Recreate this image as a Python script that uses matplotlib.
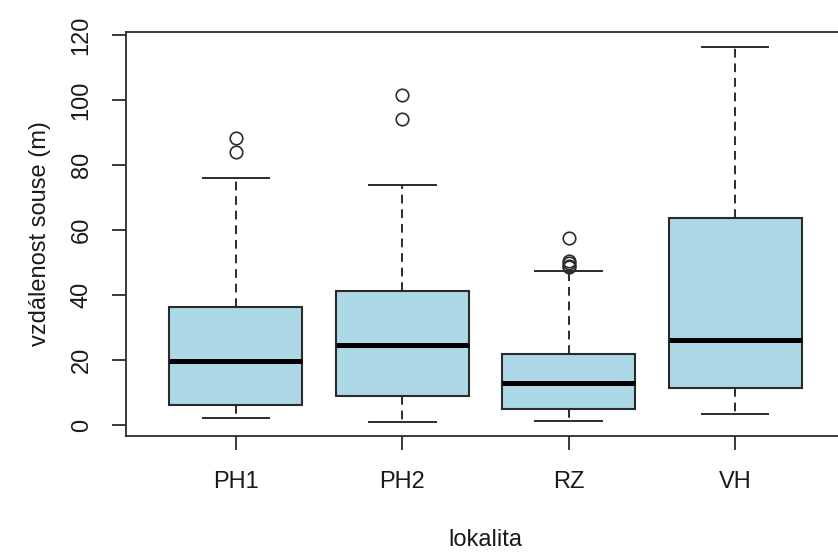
import matplotlib
matplotlib.use("Agg")
import matplotlib.pyplot as plt

# box statistics (m)
lokality = ["PH1", "PH2", "RZ", "VH"]
q1 = [6.2, 9.0, 4.9, 11.3]
median = [19.7, 24.7, 12.9, 26.2]
q3 = [36.2, 41.3, 21.8, 63.8]
whisker_lo = [2.1, 1.0, 1.2, 3.5]
whisker_hi = [75.9, 73.7, 47.4, 116.2]
outliers = [
    [84.1, 88.4],
    [94.1, 101.5],
    [48.5, 49.0, 49.7, 50.5, 57.5],
    [],
]

plt.rcParams["font.family"] = ["Liberation Sans", "DejaVu Sans"]

fig = plt.figure(figsize=(8.38, 5.53), dpi=100)
ax = fig.add_axes([126 / 838, 117 / 553, 719 / 838, 404 / 553])

stats = []
for i, name in enumerate(lokality):
    stats.append({
        "label": name,
        "q1": q1[i], "med": median[i], "q3": q3[i],
        "whislo": whisker_lo[i], "whishi": whisker_hi[i],
        "fliers": outliers[i],
    })

edge = "#2b2b2b"
ax.bxp(
    stats,
    positions=range(1, len(lokality) + 1),
    widths=0.8,
    patch_artist=True,
    showcaps=True,
    boxprops=dict(facecolor="#ADD8E6", edgecolor=edge, linewidth=1.5),
    medianprops=dict(color="black", linewidth=3.6, solid_capstyle="butt"),
    whiskerprops=dict(color=edge, linewidth=1.4, linestyle=(0, (4.5, 3))),
    capprops=dict(color=edge, linewidth=1.4),
    flierprops=dict(marker="o", markerfacecolor="none", markeredgecolor=edge,
                    markersize=9, markeredgewidth=1.2),
    capwidths=0.4,
)

ax.set_xlim(0.34, 4.66)
ax.set_ylim(-3.4, 120.9)
ax.set_yticks([0, 20, 40, 60, 80, 100, 120])
ax.set_xticks(range(1, len(lokality) + 1))
ax.set_xticklabels(lokality)

for s in ax.spines.values():
    s.set_color(edge)
    s.set_linewidth(1.3)

ax.tick_params(axis="both", labelsize=17, length=10, width=1.3, color=edge,
               labelcolor="#1a1a1a")
ax.tick_params(axis="x", pad=15)
ax.tick_params(axis="y", pad=14)
for lab in ax.get_yticklabels():
    lab.set_rotation(90)
    lab.set_va("center")

ax.set_ylabel("vzdálenost souse (m)", fontsize=17, color="#1a1a1a", labelpad=14)
ax.set_xlabel("lokalita", fontsize=17, color="#1a1a1a", labelpad=26)

fig.savefig("out.png", dpi=100)
